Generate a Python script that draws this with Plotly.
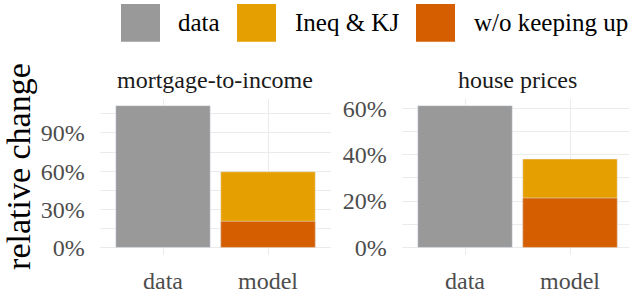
import plotly.graph_objects as go

# ---- data ----
panels = ["mortgage-to-income", "house prices"]
categories = ["data", "model"]
data_vals = [111.5, 61.1]        # observed relative change (%)
ineq_kj_vals = [59.5, 38.1]      # model: Ineq & KJ (total)
wo_keeping_vals = [20.6, 21.3]   # model: w/o keeping up
legend_labels = ["data", "Ineq & KJ", "w/o keeping up"]
y_dticks = [30, 20]

W, H = 629, 300
FONT = "Liberation Serif"
C_GRAY, C_YEL, C_ORA = "#999999", "#E69F00", "#D55E00"
GRID = "#EBEBEB"

fig = go.Figure()

xaxes = ["x", "x2"]
yaxes = ["y", "y2"]
for i in range(2):
    fig.add_trace(go.Bar(x=[categories[0]], y=[data_vals[i]], marker_color=C_GRAY,
                         width=0.9, xaxis=xaxes[i], yaxis=yaxes[i], showlegend=False,
                         name=legend_labels[0]))
    fig.add_trace(go.Bar(x=[categories[1]], y=[ineq_kj_vals[i]], marker_color=C_YEL,
                         width=0.9, xaxis=xaxes[i], yaxis=yaxes[i], showlegend=False,
                         name=legend_labels[1]))
    fig.add_trace(go.Bar(x=[categories[1]], y=[wo_keeping_vals[i]], marker_color=C_ORA,
                         width=0.9, xaxis=xaxes[i], yaxis=yaxes[i], showlegend=False,
                         name=legend_labels[2]))

y_top, y_bot = 98.5, 259.3
ydom = [1 - y_bot / H, 1 - y_top / H]

def yrange(vmax):
    return [-0.05 * vmax, 1.05 * vmax]

common_x = dict(type="category", showgrid=True, gridcolor=GRID, gridwidth=1.2,
                zeroline=False, showline=False, ticks="",
                tickfont=dict(family=FONT, size=24, color="#4D4D4D"),
                ticklabelstandoff=9)
common_y = dict(showgrid=True, gridcolor=GRID, gridwidth=1.2, zeroline=False,
                showline=False, ticks="", ticksuffix="%", tick0=0,
                tickfont=dict(family=FONT, size=24, color="#4D4D4D"),
                ticklabelstandoff=14, domain=ydom)

fig.update_layout(
    width=W, height=H, barmode="overlay",
    margin=dict(l=0, r=0, t=0, b=0),
    plot_bgcolor="white", paper_bgcolor="white",
    showlegend=False,
    xaxis=dict(common_x, domain=[99.7 / W, 331 / W], range=[-0.603, 1.600]),
    xaxis2=dict(common_x, domain=[401.7 / W, 1.0], range=[-0.603, 1.562], anchor="y2"),
    yaxis=dict(common_y, range=yrange(data_vals[0]), dtick=y_dticks[0],
               minor=dict(dtick=y_dticks[0] / 2, tick0=0, showgrid=True, gridcolor=GRID, gridwidth=1)),
    yaxis2=dict(common_y, range=yrange(data_vals[1]), dtick=y_dticks[1], anchor="x2",
                minor=dict(dtick=y_dticks[1] / 2, tick0=0, showgrid=True, gridcolor=GRID, gridwidth=1)),
)

ann = []
# strip titles
ann.append(dict(text=panels[0], x=215.4 / W, y=1 - 79 / H, xref="paper", yref="paper",
                xanchor="center", yanchor="middle", showarrow=False,
                font=dict(family=FONT, size=24, color="#1A1A1A")))
ann.append(dict(text=panels[1], x=517.5 / W, y=1 - 79 / H, xref="paper", yref="paper",
                xanchor="center", yanchor="middle", showarrow=False,
                font=dict(family=FONT, size=24, color="#1A1A1A")))
# y axis title
ann.append(dict(text="relative change", x=19 / W, y=1 - 169 / H, xref="paper", yref="paper",
                xanchor="center", yanchor="middle", textangle=-90, showarrow=False,
                font=dict(family=FONT, size=34, color="black")))

# manual legend (large square keys, as in the reference)
shapes = []
key_x = [121, 237, 416]
text_x = [176, 293, 472]
cols = [C_GRAY, C_YEL, C_ORA]
for kx, tx, c, lab in zip(key_x, text_x, cols, legend_labels):
    shapes.append(dict(type="rect", xref="paper", yref="paper",
                       x0=kx / W, x1=(kx + 39) / W, y0=1 - 40 / H, y1=1 - 1 / H,
                       fillcolor=c, line=dict(width=0)))
    ann.append(dict(text=lab, x=tx / W, y=1 - 20.5 / H, xref="paper", yref="paper",
                    xanchor="left", yanchor="middle", showarrow=False,
                    font=dict(family=FONT, size=25, color="black")))

fig.update_layout(annotations=ann, shapes=shapes)
fig.write_html("out.html", config={"displayModeBar": False},
               post_script="document.body.style.margin='0';document.body.style.padding='0';")
